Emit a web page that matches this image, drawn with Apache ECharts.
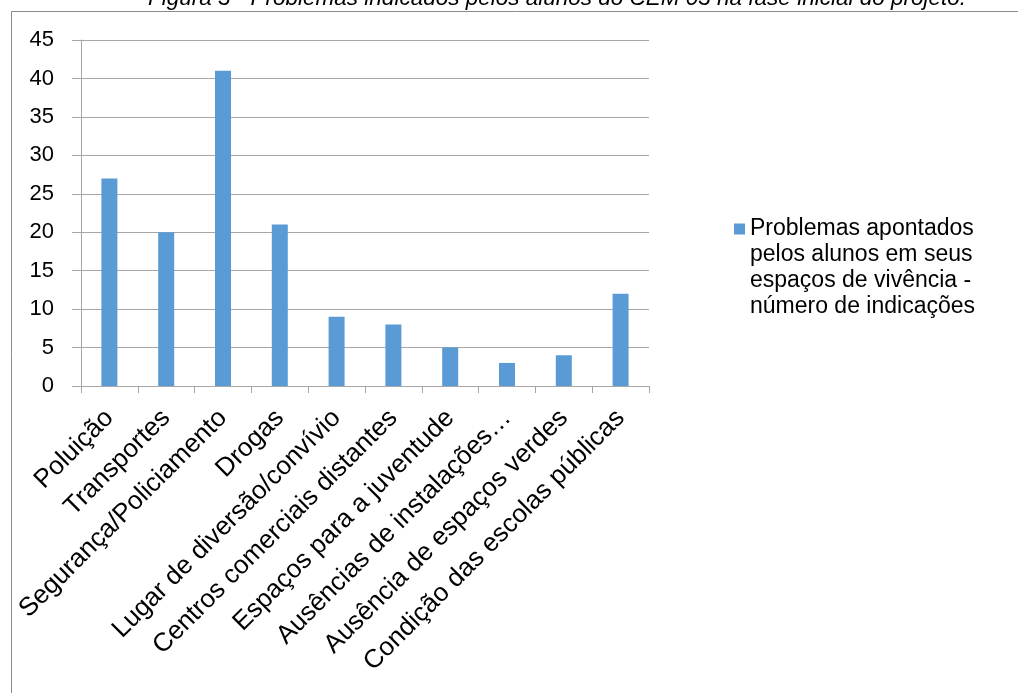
<!DOCTYPE html>
<html>
<head>
<meta charset="utf-8">
<script src="https://cdn.jsdelivr.net/npm/echarts@6/dist/echarts.min.js"></script>
<style>
  html, body { margin: 0; padding: 0; background: #fff; }
  #chart { width: 1018px; height: 693px; }
</style>
</head>
<body>
<div id="chart"></div>
<script>
const titleText = 'Figura 3 - Problemas indicados pelos alunos do CEM 03 na fase inicial do projeto.';
const seriesName = 'Problemas apontados\npelos alunos em seus\nespaços de vivência -\nnúmero de indicações';
const categories = [
  'Poluição',
  'Transportes',
  'Segurança/Policiamento',
  'Drogas',
  'Lugar de diversão/convívio',
  'Centros comerciais distantes',
  'Espaços para a juventude',
  'Ausências de instalações…',
  'Ausência de espaços verdes',
  'Condição das escolas públicas'
];
const values = [27, 20, 41, 21, 9, 8, 5, 3, 4, 12];

const font = '"Liberation Sans", Arial, sans-serif';
const gray = '#a6a6a6';

const myChart = echarts.init(document.getElementById('chart'));

myChart.setOption({
  animation: false,
  backgroundColor: '#fff',
  textStyle: { fontFamily: font },
  graphic: [
    {
      type: 'rect',
      shape: { x: 11.5, y: 11.5, width: 1020, height: 700 },
      style: { fill: null, stroke: '#8c8c8c', lineWidth: 1 },
      silent: true
    },
    {
      type: 'text',
      x: 557,
      y: 10.5,
      style: {
        text: titleText,
        font: 'italic 22.5px ' + font,
        fill: '#000',
        textAlign: 'center',
        textVerticalAlign: 'bottom'
      },
      silent: true
    }
  ],
  grid: { left: 81, right: 369, top: 40, bottom: 307, containLabel: false },
  legend: {
    orient: 'vertical',
    left: 734,
    top: 138,
    padding: 0,
    itemWidth: 11,
    itemHeight: 11,
    icon: 'rect',
    data: [seriesName],
    // three blank lines above keep the marker level with the first text line
    formatter: (name) => '\n\n\n' + name,
    textStyle: {
      fontSize: 23,
      lineHeight: 26,
      color: '#000'
    }
  },
  xAxis: {
    type: 'category',
    data: categories,
    axisLine: { lineStyle: { color: gray, width: 1 } },
    axisTick: { show: true, length: 7, lineStyle: { color: gray } },
    axisLabel: {
      interval: 0,
      rotate: 45,
      margin: 28,
      fontSize: 26,
      color: '#000'
    }
  },
  yAxis: {
    type: 'value',
    min: 0,
    max: 45,
    interval: 5,
    axisLine: { show: true, lineStyle: { color: gray, width: 1 } },
    axisTick: { show: true, length: 9, lineStyle: { color: gray } },
    splitLine: { lineStyle: { color: gray, width: 1 } },
    axisLabel: { margin: 27, fontSize: 22, color: '#000' }
  },
  series: [
    {
      name: seriesName,
      type: 'bar',
      data: values,
      barWidth: 16,
      itemStyle: { color: '#5b9bd5' }
    }
  ]
});
</script>
</body>
</html>
